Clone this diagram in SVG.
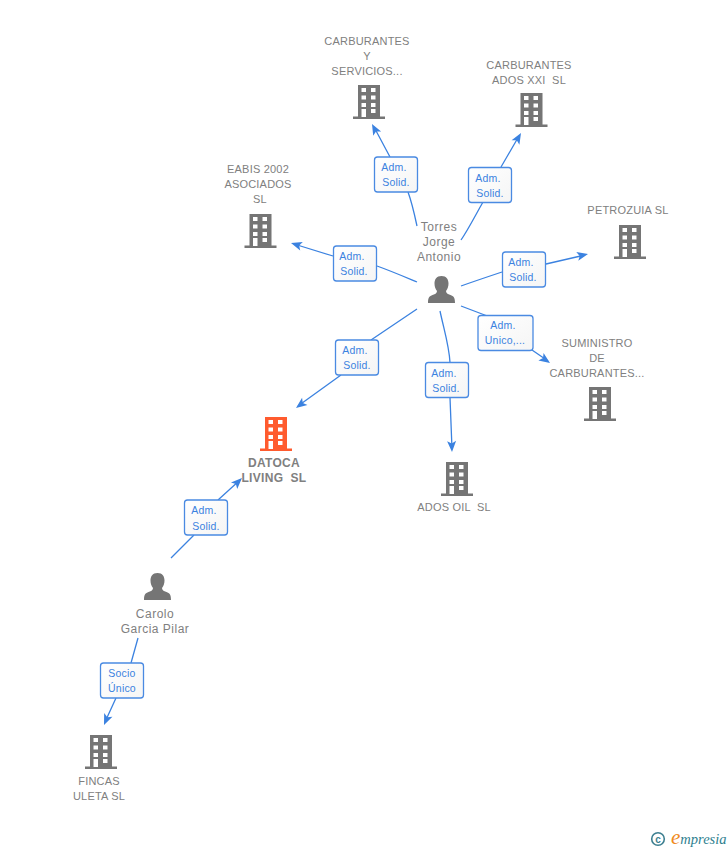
<svg xmlns="http://www.w3.org/2000/svg" xmlns:xlink="http://www.w3.org/1999/xlink" width="728" height="850" viewBox="0 0 728 850">
<style>
text{font-family:"Liberation Sans",Arial,sans-serif;text-anchor:middle;white-space:pre}
.n{font-size:11px;fill:#808080;letter-spacing:.2px}
.p{font-size:12px;fill:#808080;letter-spacing:.5px}
.b{font-weight:bold;font-size:12px;fill:#808080;letter-spacing:.3px}
.e{fill:none;stroke:#3b82e0;stroke-width:1.3}
.box{fill:url(#boxfill);stroke:#4a8ae2;stroke-width:1.3}
.l{font-size:10.5px;fill:#3b82e0;letter-spacing:.2px}
.ah{fill:#3b82e0}
</style>
<defs>
<linearGradient id="boxfill" x1="0" y1="0" x2="1" y2="1"><stop offset="0" stop-color="#fff"/><stop offset="1" stop-color="#f5f5f5"/></linearGradient>
<g id="bld">
<path fill-rule="evenodd" d="M-11 0H11V31.500H16V34H-16V31.500H-11ZM-7.500 3V7H-3V3ZM2 3V7H6.500V3ZM-7.500 10.500V14.500H-3V10.500ZM2 10.500V14.500H6.500V10.500ZM-7.500 18V22H-3V18ZM2 18V22H6.500V18ZM-7.500 24V32H-3V24ZM2 24V28H6.500V24Z"/>
</g>
<g id="per">
<path fill="#757575" d="M0 0C-5 0-7 3.500-7 7.500C-7 10.500-6 13-4.500 15C-4.500 17-6 18-9 19C-12 20-13.500 21.500-13.500 27H13.500C13.500 21.500 12 20 9 19C6 18 4.500 17 4.500 15C6 13 7 10.500 7 7.500C7 3.500 5 0 0 0Z"/>
</g>
<path id="arr" class="ah" d="M0 0L-11-4.500L-8.500 0L-11 4.500Z"/>
</defs>
<g id="connectors">
<path class="e" d="M417 226C414 212 411 200 408 192M390 157L374 127"/>
<use xlink:href="#arr" transform="translate(372 124) rotate(-118)"/>
<path class="e" d="M461 240C468 230 475 216 483 202M501 167L519 136"/>
<use xlink:href="#arr" transform="translate(521 133) rotate(-60)"/>
<path class="e" d="M417 282C405 277 391 271 377 266M333 256L294 244"/>
<use xlink:href="#arr" transform="translate(291 243) rotate(-163)"/>
<path class="e" d="M461 286C475 281 490 276 502 272M546 264L585 255"/>
<use xlink:href="#arr" transform="translate(588 254) rotate(-13)"/>
<path class="e" d="M461 306L486 315.500M532 350L548 361"/>
<use xlink:href="#arr" transform="translate(550 363) rotate(35)"/>
<path class="e" d="M440 311C444 330 449 345 450 362.500M450 397.500L452 449"/>
<use xlink:href="#arr" transform="translate(452 452) rotate(88)"/>
<path class="e" d="M417 309L371 340M341 375L298 406"/>
<use xlink:href="#arr" transform="translate(296 408) rotate(143)"/>
<path class="e" d="M171 558L194 535M218 500L240 480"/>
<use xlink:href="#arr" transform="translate(242 478) rotate(-44)"/>
<path class="e" d="M138 638L131 663M116 698L105 722"/>
<use xlink:href="#arr" transform="translate(104 725) rotate(113)"/>
</g>
<g id="n-carb-y"><text class="n" x="367" y="45">CARBURANTES</text><text class="n" x="367" y="60">Y</text><text class="n" x="367" y="75">SERVICIOS...</text><use xlink:href="#bld" transform="translate(369 85)" fill="#757575"/></g>
<g id="n-carb-xxi"><text class="n" x="529" y="69">CARBURANTES</text><text class="n" x="529" y="84">ADOS XXI  SL</text><use xlink:href="#bld" transform="translate(531.500 93)" fill="#757575"/></g>
<g id="n-eabis"><text class="n" x="258" y="173">EABIS 2002</text><text class="n" x="258" y="188">ASOCIADOS</text><text class="n" x="260" y="203">SL</text><use xlink:href="#bld" transform="translate(260.500 214)" fill="#757575"/></g>
<g id="n-petrozuia"><text class="n" x="628" y="214">PETROZUIA SL</text><use xlink:href="#bld" transform="translate(630 225)" fill="#757575"/></g>
<g id="n-suministro"><text class="n" x="597" y="347">SUMINISTRO</text><text class="n" x="597" y="362">DE</text><text class="n" x="597" y="377">CARBURANTES...</text><use xlink:href="#bld" transform="translate(600 387)" fill="#757575"/></g>
<g id="n-ados-oil"><use xlink:href="#bld" transform="translate(457 462)" fill="#757575"/><text class="n" x="454" y="511">ADOS OIL  SL</text></g>
<g id="n-datoca"><use xlink:href="#bld" transform="translate(276 417)" fill="#ff5b2e"/><text class="b" x="274" y="467">DATOCA</text><text class="b" x="274" y="482">LIVING  SL</text></g>
<g id="n-fincas"><use xlink:href="#bld" transform="translate(101 735)" fill="#757575"/><text class="n" x="99" y="785">FINCAS</text><text class="n" x="99" y="800">ULETA SL</text></g>
<g id="n-torres"><text class="p" x="439" y="231">Torres</text><text class="p" x="439" y="246">Jorge</text><text class="p" x="439" y="261">Antonio</text><use xlink:href="#per" transform="translate(441.500 276)"/></g>
<g id="n-carolo"><use xlink:href="#per" transform="translate(157.500 573)"/><text class="p" x="155" y="618">Carolo</text><text class="p" x="155" y="633">Garcia Pilar</text></g>
<g id="labels">
<g><rect class="box" x="374.500" y="157" width="43" height="35" rx="3"/><text class="l" x="394" y="171">Adm.</text><text class="l" x="396" y="186">Solid.</text></g>
<g><rect class="box" x="468.500" y="167.500" width="43" height="35" rx="3"/><text class="l" x="488" y="182">Adm.</text><text class="l" x="490" y="197">Solid.</text></g>
<g><rect class="box" x="333.500" y="246" width="43" height="35" rx="3"/><text class="l" x="352" y="260">Adm.</text><text class="l" x="354" y="275">Solid.</text></g>
<g><rect class="box" x="502.500" y="252" width="43" height="35" rx="3"/><text class="l" x="521" y="266">Adm.</text><text class="l" x="523" y="281">Solid.</text></g>
<g><rect class="box" x="478" y="315.500" width="55" height="35" rx="3"/><text class="l" x="503" y="329">Adm.</text><text class="l" x="505" y="344">Unico,...</text></g>
<g><rect class="box" x="425.500" y="362.500" width="43" height="35" rx="3"/><text class="l" x="444" y="377">Adm.</text><text class="l" x="446" y="392">Solid.</text></g>
<g><rect class="box" x="335.500" y="340" width="43" height="35" rx="3"/><text class="l" x="355" y="354">Adm.</text><text class="l" x="357" y="369">Solid.</text></g>
<g><rect class="box" x="184.500" y="500" width="43" height="35" rx="3"/><text class="l" x="204" y="514">Adm.</text><text class="l" x="206" y="530">Solid.</text></g>
<g><rect class="box" x="100.500" y="663" width="43" height="35" rx="3"/><text class="l" x="122" y="677">Socio</text><text class="l" x="122" y="692">Único</text></g>
</g>
<g id="logo">
<circle cx="658" cy="839" r="6.300" fill="none" stroke="#3d7f90" stroke-width="1.600"/>
<text x="658" y="842.500" style="font-size:10px;font-weight:bold;fill:#3d7f90">c</text>
<text x="671" y="844" style="text-anchor:start;font-family:'Liberation Serif',serif;font-style:italic;font-size:14.500px;fill:#2f7f8f"><tspan style="font-size:21px;fill:#f08a1d">e</tspan>mpresia</text>
</g>
</svg>
